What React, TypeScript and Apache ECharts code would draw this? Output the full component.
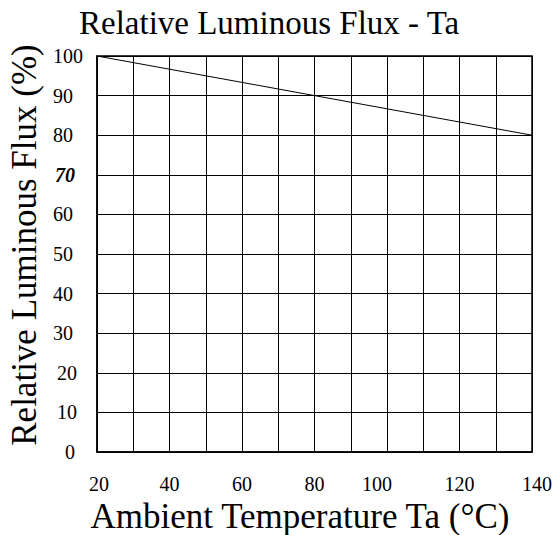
import React, { useEffect, useRef } from "react";
import * as echarts from "echarts";

const temps = [20, 140];
const flux = [100, 80];
const xTicks = { min: 20, max: 140, step: 10 };
const yTicks = { min: 0, max: 100, step: 10 };

const FONT = "'Times New Roman', 'Liberation Serif', serif";

export default function App() {
  const ref = useRef<HTMLDivElement>(null);
  useEffect(() => {
    const chart = echarts.init(ref.current!, null, { renderer: "svg" });
    const base = { fontFamily: FONT, fontSize: 20, color: "#000" };
    chart.setOption({
      animation: false,
      backgroundColor: "#fff",
      textStyle: { fontFamily: FONT, color: "#000" },
      title: {
        text: "Relative Luminous Flux - Ta",
        left: 79,
        top: 6,
        padding: 0,
        textStyle: { fontFamily: FONT, fontSize: 33, fontWeight: "normal", color: "#000" },
      },
      grid: {
        left: 97,
        right: 27,
        top: 56,
        bottom: 83,
        containLabel: false,
        outerBoundsMode: "none",
        show: true,
        borderColor: "#000",
        borderWidth: 1.5,
      },
      xAxis: {
        type: "value",
        min: xTicks.min,
        max: xTicks.max,
        interval: xTicks.step,
        name: "Ambient Temperature Ta (°C)",
        nameLocation: "middle",
        nameGap: 45,
        nameTextStyle: { fontFamily: FONT, fontSize: 35, color: "#000", padding: [0, 29, 0, 0] },
        axisLine: { lineStyle: { color: "#000", width: 1.5 } },
        axisTick: { show: false },
        splitLine: { show: true, lineStyle: { color: "#000", width: 1 } },
        axisLabel: {
          ...base,
          margin: 22,
          formatter: (v: number) => {
            if (v % 20 !== 0) return "";
            if (v === 100) return "{l|100}";
            if (v === 140) return "{r|140}";
            if (v === 20) return "{s|20}";
            return String(v);
          },
          rich: {
            l: { ...base, padding: [0, 20, 0, 0] },
            r: { ...base, padding: [0, 0, 0, 10] },
            s: { ...base, padding: [0, 0, 0, 4] },
          },
        },
      },
      yAxis: {
        type: "value",
        min: yTicks.min,
        max: yTicks.max,
        interval: yTicks.step,
        name: "Relative Luminous Flux (%)",
        nameLocation: "middle",
        nameGap: 52,
        nameTextStyle: { fontFamily: FONT, fontSize: 35, color: "#000", padding: [0, 0, 0, 18] },
        axisLine: { show: true, lineStyle: { color: "#000", width: 1.5 } },
        axisTick: { show: false },
        splitLine: { show: true, lineStyle: { color: "#000", width: 1 } },
        axisLabel: {
          ...base,
          margin: 44,
          align: "left",
          formatter: (v: number) => {
            if (v === 70) return "{it|70}";
            if (v === 10 || v === 20) return "{p4|" + v + "}";
            if (v === 0) return "{p12|0}";
            return String(v);
          },
          rich: {
            it: { ...base, fontStyle: "italic", fontWeight: "bold", padding: [0, 0, 0, 2] },
            p4: { ...base, padding: [0, 0, 0, 4] },
            p12: { ...base, padding: [0, 0, 0, 12] },
          },
        },
      },
      series: [
        {
          type: "line",
          data: temps.map((t, i) => [t, flux[i]]),
          showSymbol: false,
          lineStyle: { color: "#000", width: 1 },
        },
      ],
    });
    return () => chart.dispose();
  }, []);
  return (
    <div
      ref={ref}
      style={{ position: "absolute", left: 0, top: 0, width: 559, height: 535 }}
    />
  );
}
